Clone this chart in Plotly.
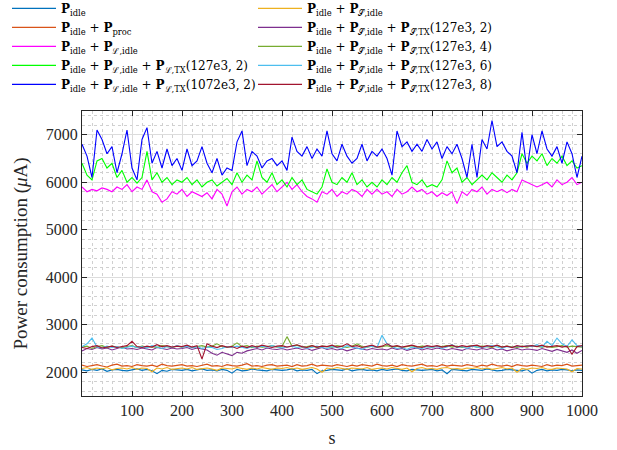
import numpy as np
import plotly.graph_objects as go

seconds = list(range(0, 1001, 10))

p_idle = [
    2050, 2030, 2060, 2040, 2070, 2020, 2050, 2060, 2040, 2030,
    2050, 2070, 2040, 2060, 2030, 1970, 2040, 2020, 2060, 2050,
    2040, 2060, 2030, 2050, 2070, 2040, 2050, 2030, 2060, 2040,
    1980, 2060, 2030, 2040, 2070, 2050, 2040, 2030, 2060, 2050,
    2040, 2050, 2070, 2030, 2050, 2040, 2060, 1970, 2030, 2040,
    2060, 2050, 2040, 2070, 2030, 2050, 2060, 2040, 2050, 2030,
    2060, 2040, 2050, 2070, 2040, 2030, 2060, 2050, 2040, 2050,
    2060, 2030, 2050, 1970, 2060, 2050, 2040, 2030, 2060, 2050,
    2040, 2070, 2050, 2030, 2040, 2060, 2050, 2040, 2030, 2060,
    1980, 2040, 2060, 2030, 2050, 2040, 2060, 2050, 2030, 2050,
    2040]

p_proc = [
    2150, 2120, 2140, 2160, 2130, 2110, 2150, 2170, 2130, 2140,
    2120, 2160, 2140, 2130, 2150, 2120, 2170, 2140, 2130, 2150,
    2160, 2130, 2140, 2120, 2150, 2170, 2130, 2140, 2120, 2160,
    2140, 2130, 2150, 2180, 2130, 2140, 2120, 2150, 2160, 2130,
    2140, 2150, 2120, 2160, 2130, 2140, 2170, 2130, 2150, 2140,
    2130, 2160, 2140, 2120, 2150, 2130, 2160, 2140, 2130, 2170,
    2140, 2130, 2150, 2120, 2160, 2140, 2130, 2150, 2170, 2130,
    2140, 2120, 2160, 2130, 2150, 2140, 2130, 2160, 2140, 2120,
    2150, 2130, 2170, 2140, 2130, 2150, 2120, 2160, 2140, 2130,
    2150, 2140, 2120, 2160, 2130, 2150, 2140, 2170, 2130, 2140,
    2150]

p_L_idle = [
    5900, 5800, 5850, 5820, 5880, 5850, 5800, 5900, 5850, 5950,
    5800, 5900, 5850, 6050, 5800, 5750, 5580, 5650, 5800, 5750,
    5850, 5700, 5800, 5750, 5700, 5780, 5650, 5850, 5750, 5500,
    5800, 5900, 5750, 5850, 5800, 5900, 5750, 5850, 5950, 5800,
    5900, 6000, 5850, 5950, 5800, 5700, 5650, 5580, 5800, 5750,
    5850, 5700, 5800, 5750, 5850, 5800, 5700, 5850, 5750, 5850,
    5750, 5800, 5700, 5850, 5750, 5800, 5900, 5800, 5850, 5750,
    5800, 5700, 5780, 5720, 5800, 5550, 5800, 5720, 5850, 5800,
    5900, 5750, 5850, 5800, 5850, 5780, 5850, 5800, 6050, 6000,
    5950, 5900, 5950, 6000, 5900, 6050, 5950, 6000, 6100, 5950,
    6000]

p_L_tx_127 = [
    6400, 6150, 6050, 6450, 6500, 6300, 6400, 6100, 6250, 6000,
    6100, 5980, 6100, 6650, 6050, 6200, 6000, 6100, 5950, 6050,
    6000, 6100, 5950, 6050, 5900, 6000, 6050, 5920, 6000, 6080,
    5950, 6200, 6000, 6150, 6050, 6450, 6100, 6000, 6200, 5950,
    6050, 5900, 6100, 5950, 6050, 5850, 5800, 5750, 5900, 6280,
    6000, 5950, 6100, 6000, 6200, 5950, 6050, 5900, 6000, 5900,
    6050, 5950, 6100, 6000, 6200, 6350, 6000, 5950, 6050, 5900,
    5950, 5900, 6050, 6450, 6200, 6300, 6000, 6100, 5950, 6050,
    6150, 6050, 6200, 6100, 6000, 6150, 6050, 6200, 6600, 6400,
    6550, 6450, 6600, 6350, 6500, 6400, 6550, 6350, 6450, 6300,
    6350]

p_L_tx_1072 = [
    6800, 6550, 6100, 7100, 6900, 6600, 6750, 6200, 6600, 7100,
    6300, 6050, 6900, 7150, 6400, 6650, 6300, 6700, 6350, 6500,
    6250, 6700, 6350, 6450, 6750, 6400, 6200, 6500, 6150, 6300,
    6250, 6850, 7080, 6350, 6650, 6550, 6300, 6450, 6500, 6350,
    6450, 6250, 6950, 6650, 6550, 6750, 6500, 6700, 6550, 7080,
    6600, 6450, 6800, 6550, 6400, 6500, 6800, 6450, 6650, 6550,
    6700, 6500, 6150, 7080, 6750, 6850, 6650, 6800, 6650, 6900,
    6700, 6850, 6500, 6750, 6600, 6800, 6500, 6100, 6800, 6100,
    6900, 6700, 7300, 6750, 6850, 6650, 6550, 6200, 7050, 6250,
    7000, 6600, 7080, 6700, 6550, 6750, 6400, 6850, 6600, 6100,
    6550]

p_S_idle = [
    2080, 2100, 2060, 2090, 2070, 2100, 2050, 2080, 2090, 2070,
    2100, 2060, 2090, 2080, 2010, 2090, 2070, 2100, 2060, 2080,
    2090, 2070, 2100, 2060, 2080, 2090, 2070, 2040, 2090, 2080,
    2070, 2100, 2080, 2060, 2090, 2070, 2100, 2080, 2060, 2090,
    2080, 2100, 2070, 2090, 2060, 2080, 2100, 2070, 2000, 2090,
    2070, 2100, 2080, 2060, 2090, 2080, 2070, 2100, 2060, 2080,
    2090, 2070, 2100, 2080, 2060, 2090, 2010, 2080, 2100, 2070,
    2080, 2060, 2090, 2100, 2070, 2080, 2060, 2090, 2080, 2100,
    2070, 2090, 2060, 2080, 2100, 2070, 2090, 2000, 2080, 2060,
    2090, 2080, 2100, 2070, 2060, 2090, 2080, 2070, 2010, 2080,
    2070]

p_S_tx_2 = [
    2450, 2500, 2480, 2520, 2490, 2510, 2470, 2500, 2530, 2490,
    2500, 2480, 2510, 2490, 2470, 2520, 2500, 2480, 2510, 2490,
    2500, 2520, 2480, 2510, 2490, 2470, 2400, 2360, 2420, 2380,
    2350, 2420, 2400, 2450, 2480, 2500, 2470, 2510, 2490, 2480,
    2500, 2470, 2490, 2510, 2480, 2500, 2460, 2490, 2520, 2480,
    2500, 2470, 2490, 2450, 2480, 2510, 2490, 2470, 2500, 2480,
    2490, 2470, 2510, 2480, 2500, 2460, 2490, 2510, 2470, 2500,
    2480, 2510, 2490, 2470, 2500, 2480, 2460, 2500, 2490, 2470,
    2500, 2480, 2510, 2470, 2490, 2450, 2480, 2500, 2470, 2490,
    2480, 2460, 2500, 2470, 2440, 2480, 2450, 2420, 2470, 2400,
    2460]

p_S_tx_4 = [
    2530, 2550, 2500, 2540, 2560, 2520, 2550, 2530, 2510, 2540,
    2560, 2520, 2550, 2530, 2540, 2520, 2560, 2540, 2520, 2550,
    2530, 2550, 2520, 2540, 2560, 2530, 2550, 2600, 2540, 2520,
    2550, 2620, 2540, 2560, 2520, 2550, 2530, 2540, 2560, 2530,
    2540, 2750, 2550, 2570, 2530, 2540, 2560, 2520, 2550, 2540,
    2530, 2560, 2540, 2520, 2550, 2600, 2540, 2530, 2550, 2520,
    2540, 2560, 2530, 2550, 2520, 2540, 2560, 2530, 2550, 2540,
    2520, 2550, 2540, 2560, 2530, 2550, 2520, 2540, 2560, 2530,
    2550, 2540, 2520, 2560, 2530, 2550, 2540, 2520, 2550, 2530,
    2560, 2540, 2530, 2550, 2520, 2540, 2560, 2530, 2550, 2540,
    2530]

p_S_tx_6 = [
    2540, 2600, 2720, 2530, 2510, 2550, 2520, 2540, 2500, 2530,
    2550, 2520, 2540, 2510, 2560, 2530, 2500, 2540, 2520, 2560,
    2530, 2550, 2510, 2540, 2500, 2530, 2520, 2480, 2500, 2540,
    2520, 2550, 2530, 2500, 2540, 2520, 2550, 2530, 2560, 2540,
    2510, 2530, 2550, 2520, 2540, 2500, 2530, 2550, 2520, 2500,
    2540, 2520, 2500, 2560, 2530, 2510, 2480, 2530, 2550, 2520,
    2780, 2600, 2540, 2500, 2520, 2480, 2530, 2510, 2500, 2540,
    2520, 2550, 2500, 2530, 2580, 2520, 2540, 2500, 2550, 2530,
    2520, 2540, 2560, 2530, 2500, 2540, 2520, 2550, 2530, 2560,
    2540, 2580, 2530, 2650, 2560, 2720, 2600, 2540, 2680, 2560,
    2540]

p_S_tx_8 = [
    2520, 2500, 2540, 2560, 2510, 2530, 2550, 2520, 2540, 2560,
    2650, 2540, 2520, 2550, 2530, 2580, 2540, 2560, 2530, 2550,
    2540, 2570, 2530, 2560, 2280, 2600, 2550, 2520, 2560, 2530,
    2540, 2500, 2550, 2520, 2560, 2530, 2570, 2540, 2520, 2550,
    2560, 2530, 2550, 2580, 2540, 2520, 2560, 2530, 2550, 2540,
    2570, 2530, 2550, 2600, 2540, 2560, 2520, 2550, 2570, 2530,
    2550, 2600, 2540, 2560, 2530, 2550, 2570, 2540, 2520, 2560,
    2540, 2560, 2530, 2550, 2570, 2530, 2560, 2540, 2550, 2570,
    2530, 2560, 2540, 2570, 2530, 2550, 2520, 2560, 2540, 2550,
    2560, 2540, 2570, 2530, 2550, 2560, 2530, 2550, 2380, 2540,
    2560]

S = "\U0001D4AE"
L = "\u2112"
P = "<b>P</b>"
names = [
    f"{P}<sub>idle</sub>",
    f"{P}<sub>idle</sub> + {P}<sub>proc</sub>",
    f"{P}<sub>idle</sub> + {P}<sub>{L},idle</sub>",
    f"{P}<sub>idle</sub> + {P}<sub>{L},idle</sub> + {P}<sub>{L},TX</sub>(127e3, 2)",
    f"{P}<sub>idle</sub> + {P}<sub>{L},idle</sub> + {P}<sub>{L},TX</sub>(1072e3, 2)",
    f"{P}<sub>idle</sub> + {P}<sub>{S},idle</sub>",
    f"{P}<sub>idle</sub> + {P}<sub>{S},idle</sub> + {P}<sub>{S},TX</sub>(127e3, 2)",
    f"{P}<sub>idle</sub> + {P}<sub>{S},idle</sub> + {P}<sub>{S},TX</sub>(127e3, 4)",
    f"{P}<sub>idle</sub> + {P}<sub>{S},idle</sub> + {P}<sub>{S},TX</sub>(127e3, 6)",
    f"{P}<sub>idle</sub> + {P}<sub>{S},idle</sub> + {P}<sub>{S},TX</sub>(127e3, 8)",
]
series = [p_idle, p_proc, p_L_idle, p_L_tx_127, p_L_tx_1072,
          p_S_idle, p_S_tx_2, p_S_tx_4, p_S_tx_6, p_S_tx_8]
colors = ["#0072BD", "#D95319", "#FF00FF", "#00FF00", "#0000FF",
          "#EDB120", "#7E2F8E", "#77AC30", "#4DBEEE", "#A2142F"]
# legend: two columns (first five left, last five right)
ranks = [1, 3, 5, 7, 9, 2, 4, 6, 8, 10]

fig = go.Figure()
for name, ys, c, r in zip(names, series, colors, ranks):
    fig.add_trace(go.Scatter(x=seconds, y=ys, mode="lines", name=name,
                             line=dict(color=c, width=1.1), legendrank=r))

FONT = "Liberation Serif"
axis_common = dict(
    showline=True, linecolor="#262626", linewidth=1, mirror="ticks",
    ticks="inside", ticklen=5, tickcolor="#262626",
    showgrid=True, gridcolor="#dcdcdc", gridwidth=1, zeroline=False,
    automargin=False,
    tickfont=dict(family=FONT, size=16, color="#262626"),
)
fig.update_layout(
    width=617, height=450,
    margin=dict(l=82, r=35, t=111, b=54, autoexpand=False),
    paper_bgcolor="white", plot_bgcolor="white",
    font=dict(family=FONT, color="#262626"),
    showlegend=True,
    legend=dict(orientation="h", x=-0.15, y=1.411, xanchor="left", yanchor="top",
                entrywidth=187, entrywidthmode="pixels", itemwidth=44,
                font=dict(family="DejaVu Serif", size=12, color="black"),
                bgcolor="rgba(0,0,0,0)", traceorder="normal",
                tracegroupgap=0),
    xaxis=dict(axis_common, range=[0, 1000], tickvals=list(range(100, 1001, 100)),
               minor=dict(dtick=20, tick0=0, showgrid=True, gridcolor="#d0d0d0",
                          griddash="dot", ticks=""),
               title=dict(text="s", font=dict(family=FONT, size=18), standoff=13)),
    yaxis=dict(axis_common, range=[1500, 7500], tick0=0, dtick=1000,
               minor=dict(dtick=200, tick0=0, showgrid=True, gridcolor="#d0d0d0",
                          griddash="dot", ticks=""),
               title=dict(text="Power consumption (<i>μ</i>A)",
                          font=dict(family=FONT, size=19), standoff=13)),
)
fig.write_html("out.html", config={"displayModeBar": False},
               post_script="document.body.style.margin='0';")
